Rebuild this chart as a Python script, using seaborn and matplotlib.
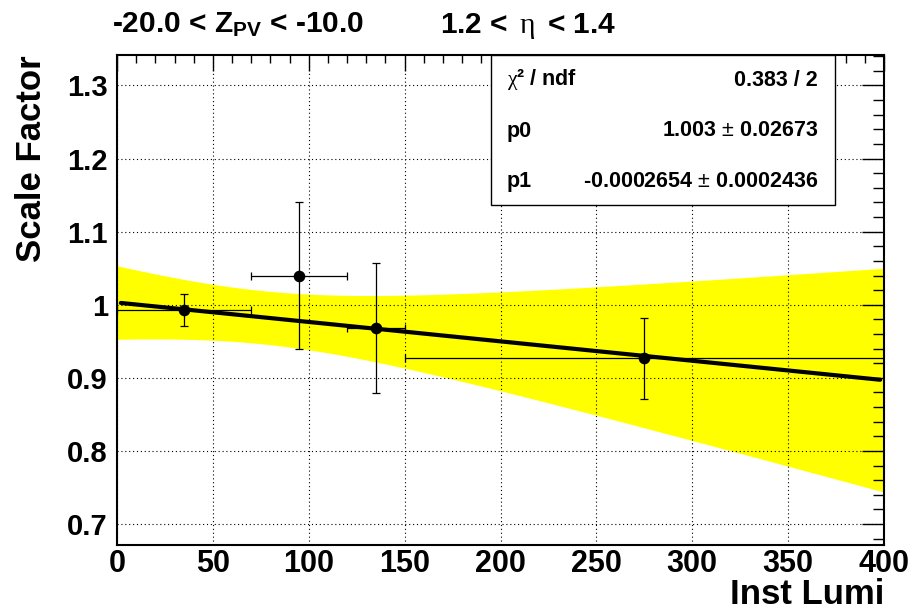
import numpy as np
import matplotlib
matplotlib.use("Agg")
import matplotlib.pyplot as plt
import seaborn as sns
from matplotlib.patches import Rectangle
from matplotlib.ticker import MultipleLocator

# Measured scale factors per instantaneous-luminosity bin
lumi = [35, 95, 135, 275]
lumi_halfwidth = [35, 25, 15, 125]
scale_factor = [0.993, 1.040, 0.968, 0.927]
scale_factor_err = [0.022, 0.101, 0.089, 0.0555]

# Straight-line fit  SF = p0 + p1 * lumi
p0, p0_err = 1.003, 0.02673
p1, p1_err = -0.0002654, 0.0002436
chi2, ndf = 0.383, 2
rho_p0p1 = -0.69          # correlation of p0 and p1
t_quantile = 4.303        # Student t, 97.5 %, 2 dof
fit_range = (2, 398)

x_ticks = [0, 50, 100, 150, 200, 250, 300, 350, 400]
y_ticks = [0.7, 0.8, 0.9, 1.0, 1.1, 1.2, 1.3]
y_tick_labels = ["0.7", "0.8", "0.9", "1", "1.1", "1.2", "1.3"]

title_left = r"-20.0 < Z$_{\mathbf{PV}}$ < -10.0"
title_right = r"1.2 < $\,\eta\,$ < 1.4"

sns.set_theme(style="white")
plt.rcParams["font.family"] = ["Liberation Sans", "DejaVu Sans"]
plt.rcParams.update({
    "mathtext.fontset": "custom",
    "mathtext.rm": "Liberation Sans",
    "mathtext.it": "Liberation Serif",
    "mathtext.bf": "Liberation Sans:bold",
    "axes.unicode_minus": False,
})

W, H = 914, 612
fig = plt.figure(figsize=(W / 100, H / 100), dpi=100)
fig.patch.set_facecolor("white")
ax = fig.add_axes([117 / W, 1 - 545 / H, 767 / W, 490 / H])
ax.set_facecolor("white")

# 95 % confidence band of the fit
xb = np.linspace(0, 400, 801)
fit_b = p0 + p1 * xb
sigma = np.sqrt(p0_err**2 + (xb * p1_err) ** 2 + 2 * xb * rho_p0p1 * p0_err * p1_err)
k = t_quantile * np.sqrt(chi2 / ndf)
ax.fill_between(xb, fit_b - k * sigma, fit_b + k * sigma, color="#ffff00", lw=0, zorder=1)

# fit line
xf = np.linspace(fit_range[0], fit_range[1], 200)
sns.lineplot(x=xf, y=p0 + p1 * xf, color="black", linewidth=3.0, ax=ax, zorder=4)

# data points with bin widths and uncertainties
ax.errorbar(lumi, scale_factor, xerr=lumi_halfwidth, yerr=scale_factor_err,
            fmt="none", ecolor="black", elinewidth=0.9, capsize=3, capthick=0.9, zorder=3)
sns.scatterplot(x=lumi, y=scale_factor, color="black", s=70, edgecolor="black",
                linewidth=0, ax=ax, zorder=5)

ax.set_xlim(0, 400)
ax.set_ylim(0.6713, 1.3417)
ax.set_xticks(x_ticks)
ax.set_xticklabels([str(v) for v in x_ticks])
ax.set_yticks(y_ticks)
ax.set_yticklabels(y_tick_labels)
ax.xaxis.set_minor_locator(MultipleLocator(10))
ax.yaxis.set_minor_locator(MultipleLocator(0.02))

ax.grid(True, which="major", color="black", linestyle=(0, (1, 2.5)), linewidth=0.8)
ax.set_axisbelow(False)
for gl in ax.get_xgridlines() + ax.get_ygridlines():
    gl.set_zorder(2)

ax.tick_params(axis="both", which="both", direction="in", top=True, right=True,
               color="black", width=1.0)
ax.tick_params(axis="x", which="major", length=11.5, pad=3)
ax.tick_params(axis="x", which="minor", length=5.8)
ax.tick_params(axis="y", which="major", length=15.8, pad=6.5)
ax.tick_params(axis="y", which="minor", length=7.9)
for lab in ax.get_xticklabels():
    lab.set_fontsize(22)
    lab.set_fontweight("bold")
    lab.set_color("black")
for lab in ax.get_yticklabels():
    lab.set_fontsize(21)
    lab.set_fontweight("bold")
    lab.set_color("black")

for sp in ax.spines.values():
    sp.set_color("black")
    sp.set_linewidth(1.5)
    sp.set_zorder(6)

ax.set_xlabel("Inst Lumi", loc="right", fontsize=25, fontweight="bold",
              color="black", labelpad=-1)
ax.set_ylabel("Scale Factor", loc="top", fontsize=25, fontweight="bold",
              color="black", labelpad=14)

# title
fig.text(112 / W, 1 - 33 / H, title_left, fontsize=21.5, fontweight="bold",
         va="baseline", ha="left", color="black")
fig.text(440 / W, 1 - 33 / H, title_right, fontsize=21.5, fontweight="bold",
         va="baseline", ha="left", color="black")

# fit statistics box
box = Rectangle((491 / W, 1 - 205 / H), 344 / W, 150 / H, transform=fig.transFigure,
                facecolor="white", edgecolor="black", linewidth=1.0, zorder=10)
fig.add_artist(box)
rows = [
    (r"$\chi$² / ndf", f"{chi2:.3f} / {ndf}", 80),
    ("p0", rf"{p0:.3f} $\pm$ {p0_err:.5f}", 131),
    ("p1", rf"{p1:.7f} $\pm$ {p1_err:.7f}", 181),
]
for name, val, yc in rows:
    fig.text(507 / W, 1 - yc / H, name, fontsize=15.5, fontweight="bold",
             va="center", ha="left", color="black", zorder=11)
    fig.text(818 / W, 1 - yc / H, val, fontsize=15.5, fontweight="bold",
             va="center", ha="right", color="black", zorder=11)

fig.savefig("out.png", dpi=100)
